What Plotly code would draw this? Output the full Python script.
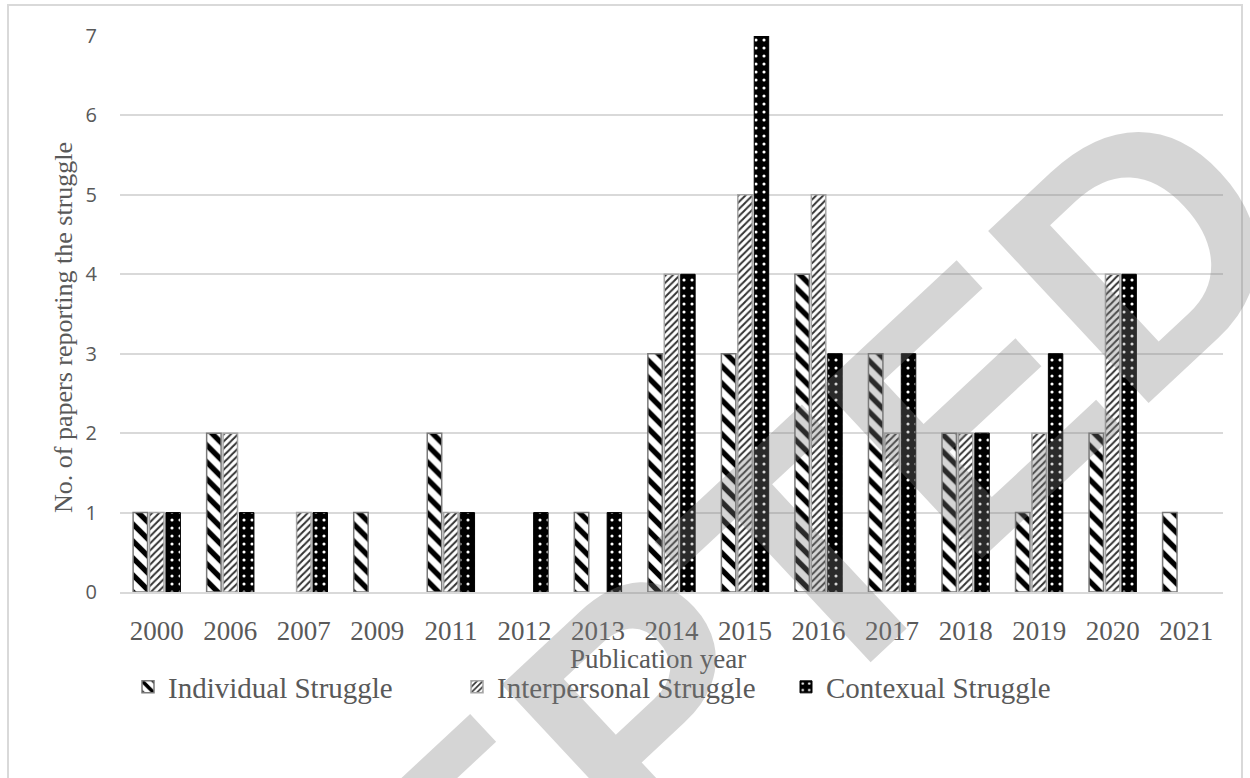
import plotly.graph_objects as go

# Publication years and counts of papers per struggle type
years = ["2000", "2006", "2007", "2009", "2011", "2012", "2013", "2014",
         "2015", "2016", "2017", "2018", "2019", "2020", "2021"]
individual = [1, 2, 0, 1, 2, 0, 1, 3, 3, 4, 3, 2, 1, 2, 1]
interpersonal = [1, 2, 1, 0, 1, 0, 0, 4, 5, 5, 2, 2, 2, 4, 0]
contextual = [1, 1, 1, 0, 1, 1, 1, 4, 7, 3, 3, 2, 3, 4, 0]
y_ticks = [0, 1, 2, 3, 4, 5, 6, 7]

series_names = ["Individual Struggle", "Interpersonal Struggle", "Contexual Struggle"]

W, H = 1250, 778
ML, MR, MT, MB = 120, 27, 36, 186

SERIF = "Liberation Serif"
TEXT = "#595959"
GRID = "#d9d9d9"


def px_x(p):
    return (p - ML) / (W - ML - MR)


def px_y(p):
    return (H - MB - p) / (H - MT - MB)


def nz(vals):
    # empty categories get no bar at all
    return [v if v else None for v in vals]


fig = go.Figure()

fig.add_bar(
    x=years, y=nz(individual), name=series_names[0],
    marker=dict(
        color="white",
        line=dict(color="#7a7a7a", width=1.5),
        pattern=dict(shape="\\", fgcolor="black", bgcolor="white",
                     size=12, solidity=0.45, fillmode="replace"),
    ),
)
fig.add_bar(
    x=years, y=nz(interpersonal), name=series_names[1],
    marker=dict(
        color="white",
        line=dict(color="#a6a6a6", width=1.5),
        pattern=dict(shape="/", fgcolor="#333333", bgcolor="white",
                     size=5, solidity=0.4, fillmode="replace"),
    ),
)
fig.add_bar(
    x=years, y=nz(contextual), name=series_names[2],
    marker=dict(
        color="black",
        line=dict(color="black", width=1),
        pattern=dict(shape=".", fgcolor="white", bgcolor="black",
                     size=8, solidity=0.12, fillmode="replace"),
    ),
)

fig.update_layout(
    width=W, height=H,
    margin=dict(l=ML, r=MR, t=MT, b=MB, pad=0),
    paper_bgcolor="white", plot_bgcolor="white",
    barmode="group", bargap=0.33, bargroupgap=0.12,
    font=dict(family=SERIF, color=TEXT, size=27),
    showlegend=True,
    legend=dict(
        orientation="h", x=px_x(128), xanchor="left",
        y=px_y(687), yanchor="middle",
        font=dict(family=SERIF, size=29, color=TEXT),
        entrywidth=284, entrywidthmode="pixels",
        itemwidth=30, tracegroupgap=0,
        bgcolor="rgba(0,0,0,0)",
    ),
    xaxis=dict(
        type="category", showgrid=False, showline=True,
        linecolor=GRID, linewidth=1.5, ticks="",
        tickfont=dict(family=SERIF, size=27, color=TEXT),
        ticklabelstandoff=14,
    ),
    yaxis=dict(
        range=[0, 7], tickvals=y_ticks, showgrid=True, gridcolor=GRID,
        gridwidth=1.5, zeroline=False, showline=False, ticks="",
        tickfont=dict(family="Open Sans", size=20, color=TEXT),
        ticklabelstandoff=22,
    ),
)

# axis titles
fig.add_annotation(
    text="No. of papers reporting the struggle", textangle=-90,
    xref="paper", yref="paper", x=px_x(63), y=px_y(328),
    xanchor="center", yanchor="middle", showarrow=False,
    font=dict(family=SERIF, size=26, color=TEXT),
)
fig.add_annotation(
    text="Publication year",
    xref="paper", yref="paper", x=px_x(658), y=px_y(659),
    xanchor="center", yanchor="middle", showarrow=False,
    font=dict(family=SERIF, size=27, color=TEXT),
)

# outer chart frame
fig.add_shape(
    type="rect", xref="paper", yref="paper",
    x0=px_x(8), x1=px_x(1242), y0=px_y(800), y1=px_y(5),
    line=dict(color=GRID, width=2), fillcolor="rgba(0,0,0,0)", layer="below",
)

# diagonal stamp across the chart
fig.add_annotation(
    text="<b>ACCEPTED</b>", textangle=-43,
    xref="paper", yref="paper", x=px_x(543), y=px_y(805),
    xanchor="center", yanchor="middle", showarrow=False,
    font=dict(family="Liberation Sans", size=342, color="rgba(129,129,129,0.33)"),
)

fig.write_html("out.html")
